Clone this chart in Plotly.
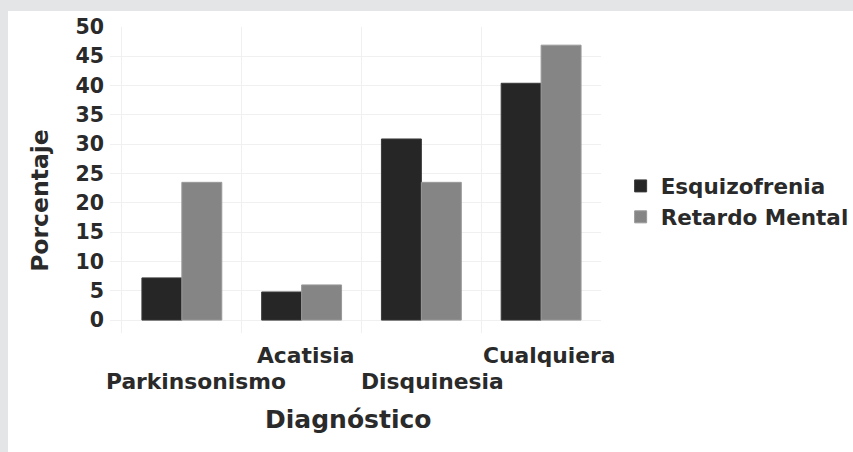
import plotly.graph_objects as go

categories = ["Parkinsonismo", "Acatisia", "Disquinesia", "Cualquiera"]
esquizofrenia = [7.2, 4.8, 30.9, 40.4]
retardo_mental = [23.5, 6.0, 23.5, 46.9]
y_ticks = [0, 5, 10, 15, 20, 25, 30, 35, 40, 45, 50]

# label layout (style, not data): row 0 = upper, 1 = lower; small horizontal nudges
label_row = [1, 0, 1, 0]
label_shift = [14, 4, 11, 8]

FONT = "DejaVu Sans"
TXT = "#2a2a2a"

fig = go.Figure()
fig.add_trace(go.Bar(name="Esquizofrenia", x=categories, y=esquizofrenia,
                     marker=dict(color="#262626", line=dict(color="#3a3a3a", width=1))))
fig.add_trace(go.Bar(name="Retardo Mental", x=categories, y=retardo_mental,
                     marker=dict(color="#858585", line=dict(color="#999999", width=1))))

annotations = []
for c, r, s in zip(categories, label_row, label_shift):
    annotations.append(dict(x=c, xref="x", y=-0.072 - 0.088 * r, yref="paper",
                            text=c, showarrow=False, yanchor="middle", xshift=s,
                            font=dict(family=FONT, size=21.8, color=TXT, weight="bold")))
annotations.append(dict(x=0.485, xref="paper", y=-0.284, yref="paper", text="Diagnóstico",
                        showarrow=False, yanchor="middle",
                        font=dict(family=FONT, size=25, color=TXT, weight="bold")))
annotations.append(dict(x=-0.1426, xref="paper", y=0.435, yref="paper", text="Porcentaje",
                        showarrow=False, textangle=-90, xanchor="center", yanchor="middle",
                        font=dict(family=FONT, size=23.5, color=TXT, weight="bold")))

fig.update_layout(
    width=853, height=452,
    margin=dict(l=110, r=252, t=27, b=119, autoexpand=False),
    paper_bgcolor="#e4e5e7",
    plot_bgcolor="white",
    barmode="group", bargap=0.333, bargroupgap=0,
    font=dict(family=FONT, size=20, color=TXT),
    xaxis=dict(range=[-0.6, 3.5], tickson="boundaries", showticklabels=False,
               showgrid=True, gridcolor="#f0f0f0", gridwidth=1, ticks="",
               showline=False, zeroline=False),
    yaxis=dict(range=[-2.2, 50], tickvals=y_ticks, showgrid=True, gridcolor="#f0f0f0",
               zeroline=False, showline=False, ticks="",
               tickfont=dict(family=FONT, size=20.5, color=TXT, weight="bold"), ticklabelstandoff=5),
    legend=dict(x=1.04, y=0.43, xanchor="left", yanchor="middle",
                font=dict(family=FONT, size=21.5, color=TXT, weight="bold"),
                bgcolor="rgba(0,0,0,0)", itemwidth=30, tracegroupgap=0),
    showlegend=True,
    annotations=annotations,
    shapes=[dict(type="rect", xref="paper", yref="paper", x0=-0.2077, x1=1.53,
                 y0=-0.40, y1=1.0523, fillcolor="white", line=dict(width=0), layer="below")],
)

fig.write_html("out.html", config={"displayModeBar": False},
               post_script="document.body.style.margin='0';document.body.style.padding='0';")
